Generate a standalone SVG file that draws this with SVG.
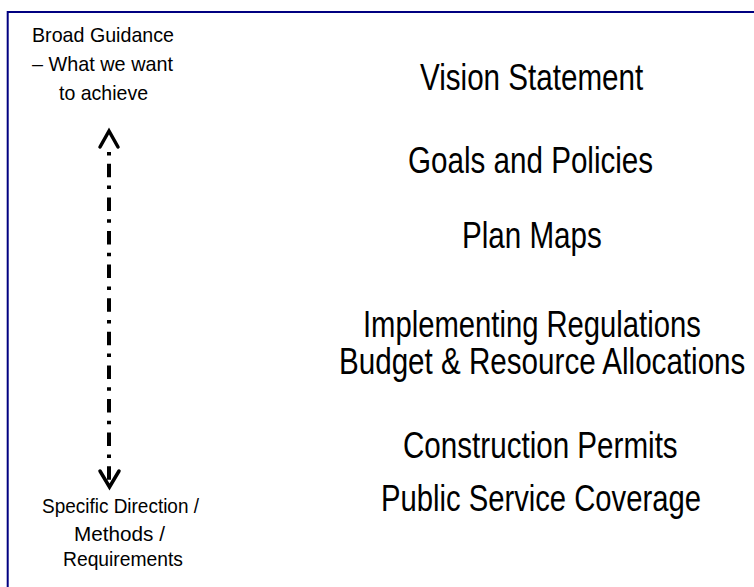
<svg xmlns="http://www.w3.org/2000/svg" width="754" height="587" viewBox="0 0 754 587">
  <style>
    .big { font-family: "Liberation Sans", Arial, sans-serif; font-size: 37px; fill: #000; }
    .small { font-family: "Liberation Sans", Arial, sans-serif; font-size: 21px; fill: #000; }
    .frame { stroke: #000080; stroke-width: 2; fill: none; }
    .shaft { stroke: #000; stroke-width: 4; fill: none; stroke-dasharray: 3.5 8.3 13.5 8.3; }
    .head { stroke: #000; stroke-width: 3.5; fill: none; stroke-linecap: round; stroke-linejoin: miter; }
  </style>
  <rect width="754" height="587" fill="#fff"/>
  <path class="frame" d="M754 12 H7.7 V587"/>
  <g id="top-label">
    <text class="small" x="32" y="42" textLength="142" lengthAdjust="spacingAndGlyphs">Broad Guidance</text>
    <text class="small" x="32" y="71" textLength="141" lengthAdjust="spacingAndGlyphs">– What we want</text>
    <text class="small" x="59" y="100" textLength="89" lengthAdjust="spacingAndGlyphs">to achieve</text>
  </g>
  <g id="bottom-label">
    <text class="small" x="42" y="513" textLength="157" lengthAdjust="spacingAndGlyphs">Specific Direction /</text>
    <text class="small" x="74" y="541" textLength="91" lengthAdjust="spacingAndGlyphs">Methods /</text>
    <text class="small" x="63" y="566" textLength="120" lengthAdjust="spacingAndGlyphs">Requirements</text>
  </g>
  <g id="connectors">
    <line class="shaft" x1="109" y1="152" x2="109" y2="480"/>
    <polyline class="head" points="100,147 109,131 118,147"/>
    <polyline class="head" points="100,471 109.5,487 119,471"/>
  </g>
  <g id="vision">
    <text class="big" transform="translate(420 90) scale(0.8 1)">Vision Statement</text>
  </g>
  <g id="goals">
    <text class="big" transform="translate(408 173) scale(0.8 1)">Goals and Policies</text>
  </g>
  <g id="plan-maps">
    <text class="big" transform="translate(462 248) scale(0.8 1)">Plan Maps</text>
  </g>
  <g id="regulations">
    <text class="big" transform="translate(363 337) scale(0.79 1)">Implementing Regulations</text>
    <text class="big" transform="translate(339 374) scale(0.8 1)">Budget &amp; Resource Allocations</text>
  </g>
  <g id="permits">
    <text class="big" transform="translate(403 458) scale(0.8 1)">Construction Permits</text>
    <text class="big" transform="translate(381 511) scale(0.79 1)">Public Service Coverage</text>
  </g>
</svg>
